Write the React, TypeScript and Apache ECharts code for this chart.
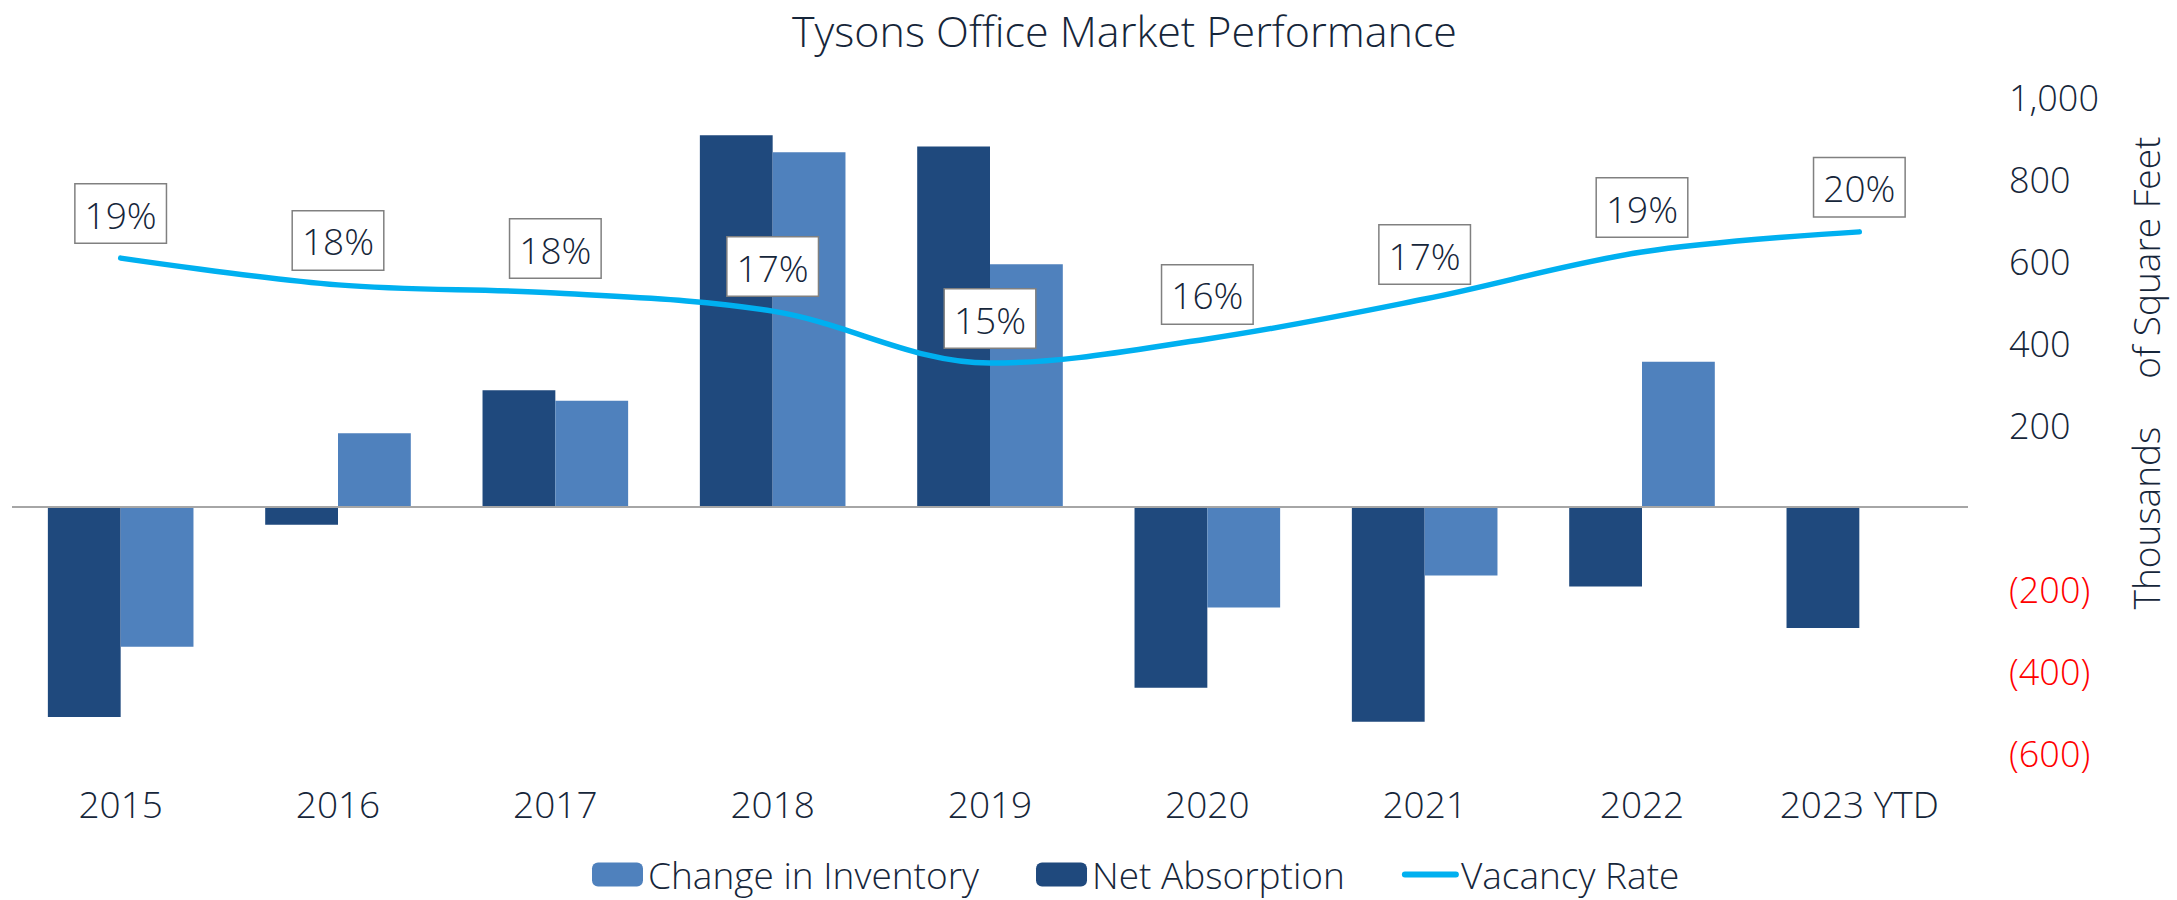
import React, { useEffect, useRef } from "react";
import * as echarts from "echarts";

const categories = ["2015", "2016", "2017", "2018", "2019", "2020", "2021", "2022", "2023 YTD"];
const netAbsorption = [-512, -43, 285, 907, 879, -441, -524, -194, -295];
const changeInInventory = [-341, 180, 259, 865, 592, -245, -167, 354, 0];
const vacancyRate = [18.86, 17.84, 17.53, 16.84, 14.86, 15.78, 17.3, 19.09, 19.86];
const leftTicks = { min: -600, max: 1000, interval: 200 };

const TEXT = "#16263a";
const FONT = "'Open Sans', sans-serif";

export default function App() {
  const ref = useRef<HTMLDivElement>(null);
  useEffect(() => {
    if (!ref.current) return;
    const chart = echarts.init(ref.current, undefined, { renderer: "svg" });
    const fmt = (v: number) => {
      if (v === 0) return "";
      const s = Math.abs(v).toLocaleString("en-US");
      return v < 0 ? `{neg|(${s})}` : `{pos|${s}}`;
    };
    chart.setOption({
      animation: false,
      backgroundColor: "#ffffff",
      textStyle: { fontFamily: FONT, fontWeight: 300 },
      title: {
        text: "Tysons Office Market Performance",
        left: 792,
        top: 8,
        padding: 0,
        textStyle: { fontSize: 43, lineHeight: 44, fontWeight: 300, color: TEXT, fontFamily: FONT },
      },
      legend: {
        data: [
          { name: "Change in Inventory" },
          { name: "Net Absorption" },
          {
            name: "Vacancy Rate",
            itemStyle: { opacity: 0 },
            lineStyle: { width: 6, cap: "round", color: "#00b0f0" },
          },
        ],
        left: 587,
        top: 851,
        itemWidth: 51,
        itemHeight: 24,
        itemGap: 57,
        textStyle: { fontSize: 37, fontWeight: 300, color: TEXT, fontFamily: FONT },
      },
      grid: { left: 12, right: 209, top: 97, bottom: 147, containLabel: false },
      xAxis: {
        type: "category",
        data: categories,
        axisLine: { show: false, onZero: false },
        axisTick: { show: false },
        axisLabel: { fontSize: 37, fontWeight: 300, color: TEXT, margin: 32, fontFamily: FONT },
        splitLine: { show: false },
      },
      yAxis: [
        {
          type: "value",
          position: "right",
          min: leftTicks.min,
          max: leftTicks.max,
          interval: leftTicks.interval,
          axisLine: { show: false },
          axisTick: { show: false },
          splitLine: { show: false },
          axisLabel: {
            margin: 41,
            formatter: fmt,
            rich: {
              pos: { fontSize: 36, fontWeight: 300, color: TEXT, fontFamily: FONT },
              neg: { fontSize: 36, fontWeight: 300, color: "#ff0000", fontFamily: FONT },
            },
          },
        },
        { type: "value", min: 0, max: 25, show: false },
      ],
      graphic: [
        {
          type: "text",
          x: 2145,
          y: 373,
          rotation: Math.PI / 2,
          style: {
            text: "Thousands     of Square Feet",
            fontSize: 37,
            fontWeight: 300,
            fontFamily: FONT,
            fill: TEXT,
            align: "center",
            verticalAlign: "middle",
          },
        },
      ],
      series: [
        {
          name: "Net Absorption",
          type: "bar",
          data: netAbsorption,
          yAxisIndex: 0,
          barGap: "0%",
          barCategoryGap: "33%",
          itemStyle: { color: "#1f497d" },
          markLine: {
            silent: true,
            symbol: ["none", "none"],
            label: { show: false },
            lineStyle: { color: "#a6a6a6", width: 2, type: "solid" },
            data: [{ yAxis: 0 }],
          },
        },
        {
          name: "Change in Inventory",
          type: "bar",
          data: changeInInventory,
          yAxisIndex: 0,
          barGap: "0%",
          barCategoryGap: "33%",
          itemStyle: { color: "#4f81bd" },
        },
        {
          name: "Vacancy Rate",
          type: "line",
          data: vacancyRate,
          yAxisIndex: 1,
          smooth: 0.35,
          symbol: "circle",
          symbolSize: 1,
          showSymbol: true,
          lineStyle: { color: "#00b0f0", width: 5.5, cap: "round" },
          itemStyle: { color: "#00b0f0" },
          z: 5,
          label: {
            show: true,
            position: "top",
            distance: 15,
            formatter: (p: any) => `${Math.round(p.value)}%`,
            fontSize: 37,
            fontWeight: 300,
            fontFamily: FONT,
            color: TEXT,
            backgroundColor: "#ffffff",
            borderColor: "#808080",
            borderWidth: 1.5,
            padding: [11, 9, 10, 9],
          },
        },
      ],
    });
    return () => chart.dispose();
  }, []);
  return (
    <div
      ref={ref}
      style={{ position: "fixed", left: 0, top: 0, width: 2177, height: 900 }}
    />
  );
}
